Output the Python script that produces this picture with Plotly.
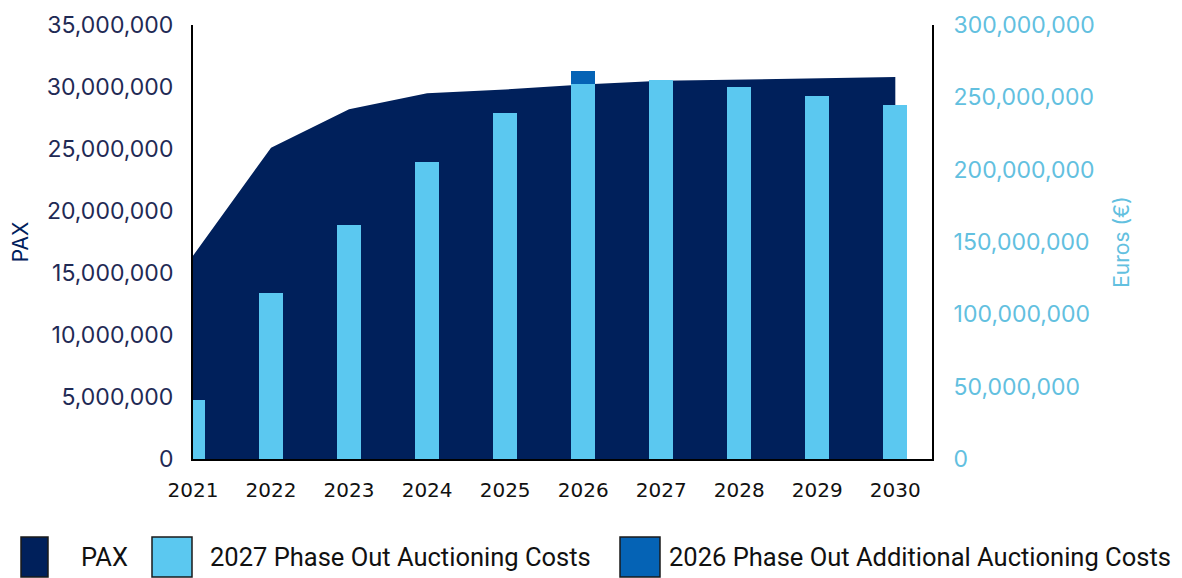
import plotly.graph_objects as go

years = [2021, 2022, 2023, 2024, 2025, 2026, 2027, 2028, 2029, 2030]
pax = [16.4e6, 25.1e6, 28.2e6, 29.5e6, 29.8e6, 30.2e6, 30.5e6, 30.6e6, 30.7e6, 30.8e6]
phase_out_2027 = [41e6, 115e6, 161.5e6, 205e6, 239e6, 259.5e6, 262e6, 257e6, 251e6, 245e6]
additional_2026 = [None, None, None, None, None, 9e6, None, None, None, None]

left_ticks = [0, 5e6, 10e6, 15e6, 20e6, 25e6, 30e6, 35e6]
right_ticks = [0, 50e6, 100e6, 150e6, 200e6, 250e6, 300e6]

NAVY = "#00205B"
LIGHT = "#5BC8F0"
MID = "#0563B5"
RIGHT_TXT = "#62C0DF"
TICK_NAVY = "#1F2A55"

W, H = 1182, 578
L, R, T, B = 193, 250, 25, 119
pw, ph = W - L - R, H - T - B

def px_x(px):
    return (px - L) / pw

def px_y(py):
    return (H - B - py) / ph

FONT = "Inter, Lato, sans-serif"

fig = go.Figure()
fig.add_trace(go.Scatter(x=years, y=pax, mode="lines", fill="tozeroy",
                         line=dict(width=0, color=NAVY), fillcolor=NAVY,
                         name="PAX", yaxis="y"))
fig.add_trace(go.Bar(x=years, y=phase_out_2027, marker=dict(color=LIGHT, line=dict(width=0)),
                     width=0.31, name="2027 Phase Out Auctioning Costs", yaxis="y2"))
fig.add_trace(go.Bar(x=years, y=additional_2026, marker=dict(color=MID, line=dict(width=0)),
                     width=0.31, name="2026 Phase Out Additional Auctioning Costs", yaxis="y2"))

fig.update_layout(
    width=W, height=H,
    margin=dict(l=L, r=R, t=T, b=B, pad=0),
    paper_bgcolor="white", plot_bgcolor="white",
    barmode="stack", showlegend=False,
    xaxis=dict(range=[2021, 2030.47], tickmode="array", tickvals=years,
               ticktext=[str(y) for y in years], showgrid=False, zeroline=False,
               showline=True, linecolor="black", linewidth=2,
               ticks="outside", ticklen=12, tickcolor="rgba(0,0,0,0)",
               tickfont=dict(family="DejaVu Sans, sans-serif", size=20, color="#111111")),
    yaxis=dict(range=[0, 35e6], tickmode="array", tickvals=left_ticks,
               tickformat=",d", showgrid=False, zeroline=False,
               showline=True, linecolor="black", linewidth=2,
               ticks="outside", ticklen=13, tickcolor="rgba(0,0,0,0)",
               tickfont=dict(family=FONT, size=23, color=TICK_NAVY),
               title=dict(text="PAX", font=dict(family=FONT, size=21, color=NAVY),
                          standoff=12)),
    yaxis2=dict(range=[0, 300e6], tickmode="array", tickvals=right_ticks,
                tickformat=",d", overlaying="y", side="right", showgrid=False, zeroline=False,
                showline=True, linecolor="black", linewidth=2,
                ticks="outside", ticklen=15, tickcolor="rgba(0,0,0,0)",
                tickfont=dict(family=FONT, size=23, color=RIGHT_TXT),
                title=dict(text="Euros (€)", font=dict(family=FONT, size=21, color=RIGHT_TXT),
                           standoff=20)),
)

legend_items = [
    ("PAX", NAVY, 21, 48, 79),
    ("2027 Phase Out Auctioning Costs", LIGHT, 152, 192, 208),
    ("2026 Phase Out Additional Auctioning Costs", MID, 620, 660, 667),
]
for label, color, x0, x1, tx in legend_items:
    fig.add_shape(type="rect", xref="paper", yref="paper",
                  x0=px_x(x0), x1=px_x(x1), y0=px_y(577), y1=px_y(537),
                  fillcolor=color, line=dict(color="#1a1a1a", width=1.5))
    fig.add_annotation(xref="paper", yref="paper", x=px_x(tx), y=px_y(557),
                       text=label, showarrow=False, xanchor="left", yanchor="middle",
                       font=dict(family="Roboto, sans-serif", size=25.5, color="#111111"))

fig.write_html("out.html", config={"displayModeBar": False},
               post_script="document.body.style.margin='0';")
